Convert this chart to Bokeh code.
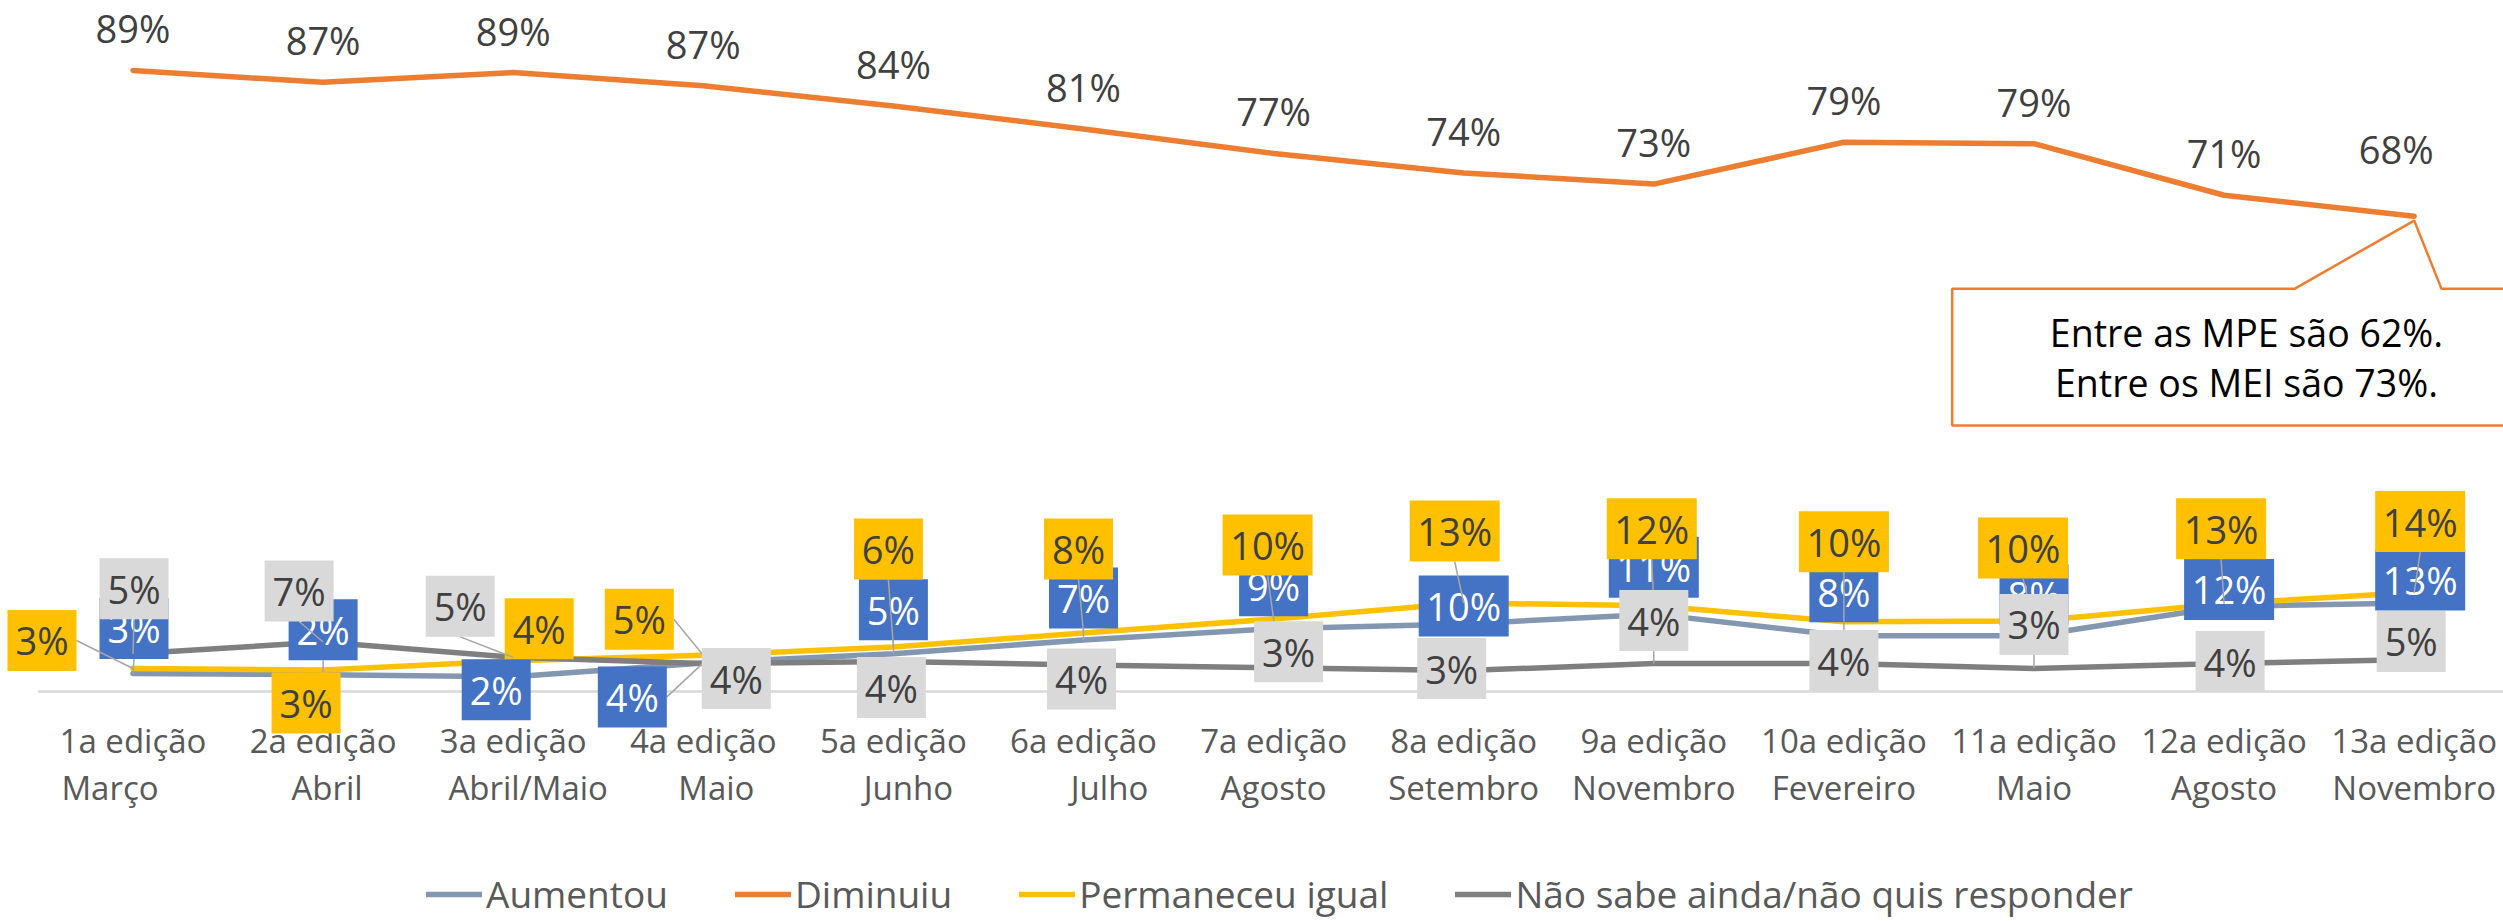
from bokeh.plotting import figure
from bokeh.models import Range1d, ColumnDataSource, Legend, LegendItem
from bokeh.core.properties import value
from bokeh.embed import file_html
from bokeh.resources import INLINE

# ---------------- data ----------------
editions = ["1a edição", "2a edição", "3a edição", "4a edição", "5a edição", "6a edição",
            "7a edição", "8a edição", "9a edição", "10a edição", "11a edição", "12a edição",
            "13a edição"]
months = ["Março", "Abril", "Abril/Maio", "Maio", "Junho", "Julho", "Agosto", "Setembro",
          "Novembro", "Fevereiro", "Maio", "Agosto", "Novembro"]
aumentou = [2.6, 2.4, 2.1, 4.1, 5.4, 7.4, 9.0, 9.7, 11.1, 8.0, 8.0, 12.2, 12.7]
diminuiu = [89.1, 87.4, 88.8, 86.9, 84.0, 80.7, 77.2, 74.4, 72.8, 78.8, 78.6, 71.2, 68.2]
permaneceu = [3.3, 3.1, 4.4, 5.2, 6.4, 8.4, 10.4, 12.7, 12.3, 10.0, 10.1, 12.6, 14.2]
nao_sabe = [5.4, 7.1, 4.9, 4.0, 4.3, 3.8, 3.4, 3.0, 4.0, 4.0, 3.3, 4.0, 4.6]
series_names = ["Aumentou", "Diminuiu", "Permaneceu igual", "Não sabe ainda/não quis responder"]
callout_text = ["Entre as MPE são 62%.", "Entre os MEI são 73%."]

# ---------------- layout / style ----------------
W, H = 2503, 921
X0, DX = 132.5, 190.1      # canvas px of first category, px per category
Y0, DY = 691.0, 6.97       # canvas px of 0 %, px per percent
FONT = value("Open Sans")
LBL_FS = 38
BOX_H = 61

# label offsets (px right, px down) from each data point
off_aum = [(1, -45), (0, -45), (-17, 13), (-71, 34), (0, -44), (0, -42), (0, -43),
           (0, -18), (0, -47), (0, -44), (0, -41), (5, -17), (6, -23)]
off_per = [(-91, -28), (-17, 33), (26, -32), (-64, -36), (-5, -98), (-5, -84), (-6, -74),
           (-9, -72), (-2, -77), (0, -80), (-11, -73), (-3, -75), (6, -71)]
off_nao = [(1, -65), (-24, -51), (-53, -51), (33, 15), (-2, 26), (-2, 14), (15, -16),
           (-12, -2), (0, -43), (0, -3), (0, -44), (6, -2), (-3, -18)]
off_dim = [(0, -42)] * 12 + [(-18, -67)]
month_dx = [-23, 4, 15, 13, 15, 26, 0, 0, 0, 0, 0, 0, 0]


def dxd(px):
    return px / DX


def dyd(px_down):
    return -px_down / DY


n = len(editions)
idx = list(range(n))

p = figure(width=W, height=H, output_backend="svg", toolbar_location=None,
           x_range=Range1d(-X0 / DX, (W - X0) / DX),
           y_range=Range1d(-(H - Y0) / DY, Y0 / DY),
           x_axis_location=None, y_axis_location=None, min_border=0)
p.grid.visible = False
p.outline_line_color = None
p.background_fill_color = "white"
p.border_fill_color = "white"

# category axis line
p.segment(x0=[-0.5], y0=[0], x1=[n - 0.5], y1=[0], line_color="#D9D9D9", line_width=2.5)

# category labels
p.text(x=idx, y=[dyd(48.5)] * n, text=editions, text_font=FONT, text_font_size="33px",
       text_color="#595959", text_align="center", text_baseline="middle")
p.text(x=[i + dxd(d) for i, d in zip(idx, month_dx)], y=[dyd(96)] * n, text=months,
       text_font=FONT, text_font_size="33px", text_color="#595959",
       text_align="center", text_baseline="middle")

# lines
LW = 5.5
r_aum = p.line(idx, aumentou, line_color="#8497B0", line_width=LW, line_join="round", line_cap="round")
r_dim = p.line(idx, diminuiu, line_color="#ED7D31", line_width=LW, line_join="round", line_cap="round")
r_per = p.line(idx, permaneceu, line_color="#FFC000", line_width=LW, line_join="round", line_cap="round")
r_nao = p.line(idx, nao_sabe, line_color="#7F7F7F", line_width=LW, line_join="round", line_cap="round")


def draw_labels(vals, offs, box_color, text_color, boxed=True):
    xs, ys, texts, ws = [], [], [], []
    lx0, ly0, lx1, ly1 = [], [], [], []
    for i, (v, (ox, oy)) in enumerate(zip(vals, offs)):
        t = f"{round(v)}%"
        w = 69 if len(t) <= 2 else 90
        xs.append(i + dxd(ox))
        ys.append(v + dyd(oy))
        texts.append(t)
        ws.append(w)
        if boxed:
            rx, ry = -ox, -oy
            outx = abs(rx) - w / 2
            outy = abs(ry) - BOX_H / 2
            if max(outx, outy) > 10:
                if outy >= outx:
                    sx, sy = 0, (BOX_H / 2 if ry > 0 else -BOX_H / 2)
                else:
                    sx, sy = (w / 2 if rx > 0 else -w / 2), 0
                lx0.append(i + dxd(ox + sx))
                ly0.append(v + dyd(oy + sy))
                lx1.append(i)
                ly1.append(v)
    src = ColumnDataSource(dict(x=xs, y=ys, text=texts, w=ws))
    if boxed:
        if lx0:
            p.segment(x0=lx0, y0=ly0, x1=lx1, y1=ly1, line_color="#A6A6A6", line_width=1.5)
        p.rect(x="x", y="y", width="w", height=BOX_H, width_units="screen",
               height_units="screen", fill_color=box_color, line_color=None, source=src)
    p.text(x="x", y="y", text="text", source=src, text_font=FONT,
           text_font_size=f"{LBL_FS}px", text_color=text_color,
           text_align="center", text_baseline="middle")


draw_labels(aumentou, off_aum, "#4472C4", "white")
draw_labels(diminuiu, off_dim, None, "#404040", boxed=False)
draw_labels(permaneceu, off_per, "#FFC000", "#404040")
draw_labels(nao_sabe, off_nao, "#D9D9D9", "#404040")

# callout attached to last "Diminuiu" point
cx, cy = idx[-1], diminuiu[-1]
shape = [(-462, 72.7), (-119.7, 72.7), (0, 4.4), (27.3, 72.7), (150, 72.7),
         (150, 209.4), (-462, 209.4)]
p.patch([cx + dxd(a) for a, b in shape], [cy + dyd(b) for a, b in shape],
        fill_color="white", line_color="#ED7D31", line_width=2.5)
p.text(x=[cx + dxd(-167.7)] * 2, y=[cy + dyd(116.4), cy + dyd(166.4)], text=callout_text,
       text_font=FONT, text_font_size="37.5px", text_color="black",
       text_align="center", text_baseline="middle")

# legend
legend = Legend(items=[LegendItem(label=series_names[0], renderers=[r_aum]),
                       LegendItem(label=series_names[1], renderers=[r_dim]),
                       LegendItem(label=series_names[2], renderers=[r_per]),
                       LegendItem(label=series_names[3], renderers=[r_nao])],
                orientation="horizontal", location=(426, 2),
                glyph_width=56, glyph_height=40, label_height=40, label_standoff=4,
                spacing=67, padding=0, margin=0, border_line_color=None,
                background_fill_alpha=0, label_text_font="Open Sans",
                label_text_font_size="37px", label_text_color="#595959")
p.add_layout(legend)

open("out.html", "w").write(file_html(p, INLINE))
